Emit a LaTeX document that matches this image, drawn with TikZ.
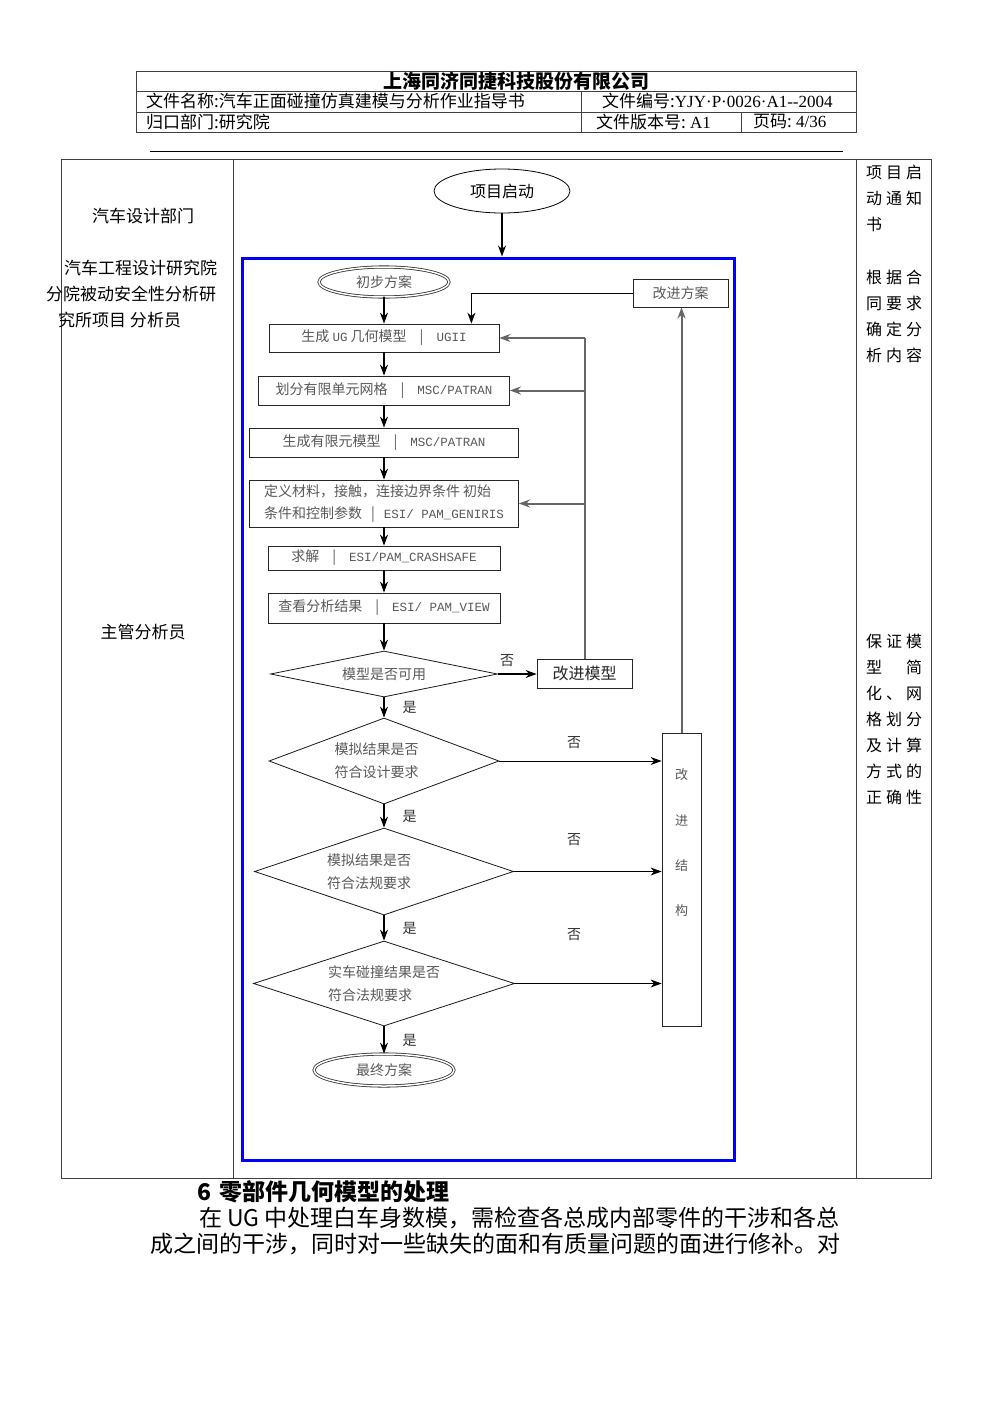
\documentclass[tikz,border=0pt]{standalone}
\usepackage{fontspec}
\setmainfont{Liberation Serif}
\setmonofont{Liberation Mono}
\newfontfamily\cjk{Noto Sans CJK SC}
\usetikzlibrary{shapes.geometric,arrows.meta,positioning}
\tikzset{every picture/.style={x=1pt,y=-1pt}}
\newcommand{\toolname}[1]{{\ttfamily\fontsize{12.5}{12.5}\selectfont #1}}
\newcommand{\barsep}{\hspace{13pt}|\hspace{13pt}}

\begin{document}
\begin{tikzpicture}[
    >={Stealth[length=11pt,width=8pt,inset=3.5pt]},
    rule/.style={draw=black!75, line width=0.9pt},
    hdr/.style={font=\cjk\fontsize{17}{17}\selectfont, inner sep=0pt, anchor=west},
    side/.style={font=\cjk\fontsize{17}{17}\selectfont, inner sep=0pt},
    rcol/.style={font=\cjk\fontsize{16}{16}\selectfont, inner sep=0pt, anchor=west},
    oval/.style={draw, ellipse, line width=0.8pt, inner sep=0pt, font=\cjk\fontsize{16}{16}\selectfont},
    term/.style={draw=black!80, ellipse, double, double distance=1.5pt, line width=0.8pt, inner sep=0pt, text=black!65, font=\cjk\fontsize{14}{14}\selectfont},
    proc/.style={draw=black!85, line width=0.8pt, inner sep=0pt, text=black!65, font=\cjk\fontsize{14}{22}\selectfont, align=left},
    dec/.style={draw=black!90, diamond, aspect=3, line width=0.8pt, inner sep=0pt, text=black!65, font=\cjk\fontsize{14}{23}\selectfont, align=left},
    lbl/.style={font=\cjk\fontsize{14}{14}\selectfont, inner sep=0pt, text=black!80},
    flow/.style={->, line width=1.2pt},
    feed/.style={line width=2pt, draw=black!60},
    body/.style={font=\cjk\fontsize{23}{23}\selectfont, inner sep=0pt, anchor=west}
]
    % Page
    \useasboundingbox (0,0) rectangle (992,1403);
    \fill[white] (0,0) rectangle (992,1403);

    % Header table
    \draw[rule] (136,71) rectangle (856,132);
    \draw[rule] (136,91) -- (856,91);
    \draw[rule] (136,112) -- (856,112);
    \draw[rule] (581,91) -- (581,132);
    \draw[rule] (741,112) -- (741,132);
    \draw[line width=1pt] (150,151) -- (843,151);

    \node[hdr, anchor=center, font=\cjk\bfseries\fontsize{19}{19}\selectfont] (title) at (516,81) {上海同济同捷科技股份有限公司};
    \node[hdr] (docname) at (146,101) {文件名称:汽车正面碰撞仿真建模与分析作业指导书};
    \node[hdr] (docno) at (602,101) {文件编号:{\rmfamily YJY·P·0026·A1-{}-2004}};
    \node[hdr] (dept) at (146,122) {归口部门:研究院};
    \node[hdr] (ver) at (596,122) {文件版本号:{\rmfamily\ A1}};
    \node[hdr] (page) at (753,122) {页码:{\rmfamily\ 4/36}};

    % Main table
    \draw[rule] (61,159) rectangle (931,1178);
    \draw[rule] (233,159) -- (233,1178);
    \draw[rule] (856,159) -- (856,1178);

    % Left column
    \node[side] (dept1) at (143,216) {汽车设计部门};
    \node[side, anchor=west] (inst1) at (64,268) {汽车工程设计研究院};
    \node[side, anchor=west] (inst2) at (46,294) {分院被动安全性分析研};
    \node[side, anchor=west] (inst3) at (58,320) {究所项目 分析员};
    \node[side] (chief) at (143,632) {主管分析员};

    % Right column
    \foreach \y/\a/\b/\c in {172/项/目/启, 198/动/通/知, 224/书/{}/{},
        277/根/据/合, 303/同/要/求, 329/确/定/分, 355/析/内/容,
        641/保/证/模, 667/型/{}/简, 693/化/、/网, 719/格/划/分,
        745/及/计/算, 771/方/式/的, 797/正/确/性}
        \node[rcol] (r\y) at (866,\y) {\makebox[20pt][l]{\a}\makebox[20pt][l]{\b}\c};

    % Flow chart
    \node[oval, minimum width=136, minimum height=44] (start) at (502,191) {项目启动};
    \node[draw=blue, line width=3pt, minimum width=492, minimum height=902, inner sep=0pt] (frame) at (488,709) {};

    \node[term, minimum width=130, minimum height=30] (p0) at (384,282) {初步方案};
    \node[proc, minimum width=95, minimum height=28] (imp) at (680.5,293) {改进方案};
    \node[proc, minimum width=230, minimum height=28] (ug) at (384,338) {生成 \toolname{UG} 几何模型\barsep\toolname{UGII}};
    \node[proc, minimum width=251, minimum height=29] (mesh) at (384,390.5) {划分有限单元网格\barsep\toolname{MSC/PATRAN}};
    \node[proc, minimum width=269, minimum height=29] (fem) at (384,442.5) {生成有限元模型\barsep\toolname{MSC/PATRAN}};
    \node[proc, minimum width=269, minimum height=47] (def) at (384,503.5) {定义材料，接触，连接边界条件 初始\\条件和控制参数\hspace{9pt}|\hspace{9pt}\toolname{ESI/ PAM\_GENIRIS}};
    \node[proc, minimum width=232, minimum height=24] (solve) at (384,558) {求解\barsep\toolname{ESI/PAM\_CRASHSAFE}};
    \node[proc, minimum width=232, minimum height=30] (view) at (384,608) {查看分析结果\barsep\toolname{ESI/ PAM\_VIEW}};

    \node[dec, minimum width=227, minimum height=46] (d1) at (384,674) {模型是否可用};
    \node[proc, text=black!85, font=\cjk\fontsize{16}{16}\selectfont, minimum width=95, minimum height=29] (fixm) at (584.5,673.5) {改进模型};
    \node[dec, minimum width=230, minimum height=86] (d2) at (384,761) {模拟结果是否\makebox[15pt]{}\\符合设计要求};
    \node[dec, minimum width=259, minimum height=87] (d3) at (384,871.5) {模拟结果是否\makebox[30pt]{}\\符合法规要求};
    \node[dec, minimum width=261, minimum height=85] (d4) at (384,983.5) {实车碰撞结果是否\\符合法规要求};
    \node[term, minimum width=140, minimum height=32] (fin) at (384,1070) {最终方案};

    \node[proc, minimum width=39, minimum height=293] (fixs) at (681.5,879.5) {};
    \node[lbl, align=center, font=\cjk\fontsize{13}{45.3}\selectfont, text=black!65] (fixstext) at (681.5,843) {改\\进\\结\\构};

    \node[lbl] (no1) at (507,661) {否};
    \node[lbl] (no2) at (574,743) {否};
    \node[lbl] (no3) at (574,840) {否};
    \node[lbl] (no4) at (574,935) {否};

    % Connectors
    \draw[flow] (start) -- (start |- frame.north);
    \foreach \a/\b in {p0/ug, ug/mesh, mesh/fem, fem/def, def/solve, solve/view, view/d1}
        \draw[flow] (\a) -- (\b);
    \draw[flow] (d1) -- node[lbl, right=18pt] (yes1) {是} (d2);
    \draw[flow] (d2) -- node[lbl, right=18pt] (yes2) {是} (d3);
    \draw[flow] (d3) -- node[lbl, right=18pt] (yes3) {是} (d4);
    \draw[flow] (d4) -- node[lbl, right=18pt] (yes4) {是} (fin);

    \draw[flow] (d1.east) -- (d1.east -| fixm.west);
    \draw[feed] (fixm.north) -- (fixm.north |- ug.east);
    \foreach \b in {ug, mesh, def}
        \draw[feed, ->] (fixm.north |- \b.east) -- (\b.east);

    \foreach \d in {d2, d3, d4}
        \draw[flow, line width=0.9pt] (\d.east) -- (\d.east -| fixs.west);
    \draw[feed, ->] (fixs.north) -- (fixs.north |- imp.south);
    \draw[flow, line width=0.9pt] (imp.west) -| ([xshift=-28pt]ug.north east);

    % Text below the table
    \node[body, font=\cjk\bfseries\fontsize{23}{23}\selectfont] (sec) at (197,1192) {6\hspace{8pt}零部件几何模型的处理};
    \node[body] (par1) at (199,1218) {在 UG 中处理白车身数模，需检查各总成内部零件的干涉和各总};
    \node[body] (par2) at (150,1244) {成之间的干涉，同时对一些缺失的面和有质量问题的面进行修补。对};
\end{tikzpicture}
\end{document}
